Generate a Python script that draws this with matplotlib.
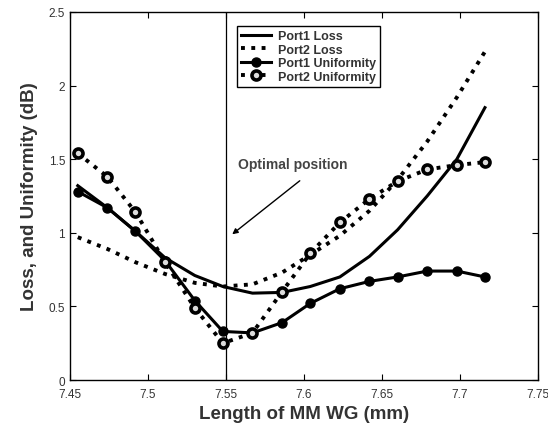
import numpy as np
import matplotlib
matplotlib.use("Agg")
import matplotlib.pyplot as plt

plt.rcParams['font.family'] = ['Liberation Sans', 'DejaVu Sans']

# length of MM WG (mm), sample positions
length = [7.455, 7.474, 7.492, 7.511, 7.530, 7.548, 7.567, 7.586,
          7.604, 7.623, 7.642, 7.660, 7.679, 7.698, 7.716]

port1_loss = [1.32, 1.17, 1.01, 0.83, 0.71, 0.635, 0.59, 0.595,
              0.635, 0.70, 0.84, 1.02, 1.25, 1.50, 1.85]
port2_loss = [0.97, 0.89, 0.80, 0.72, 0.66, 0.635, 0.65, 0.73,
              0.85, 0.98, 1.15, 1.36, 1.62, 1.92, 2.23]
port1_unif = [1.28, 1.17, 1.01, 0.81, 0.54, 0.33, 0.32, 0.39,
              0.52, 0.62, 0.67, 0.70, 0.74, 0.74, 0.70]
port2_unif = [1.54, 1.38, 1.14, 0.80, 0.49, 0.25, 0.32, 0.60,
              0.86, 1.07, 1.23, 1.35, 1.43, 1.46, 1.48]

xticks = [7.45, 7.5, 7.55, 7.6, 7.65, 7.7, 7.75]
xticklabels = ["7.45", "7.5", "7.55", "7.6", "7.65", "7.7", "7.75"]
yticks = [0, 0.5, 1, 1.5, 2, 2.5]
yticklabels = ["0", "0.5", "1", "1.5", "2", "2.5"]

optimal = 7.55

fig = plt.figure(figsize=(5.48, 4.27), dpi=100)
ax = fig.add_axes([0.1277, 0.1077, 0.854, 0.862])

ax.plot(length, port1_loss, '-', color='black', lw=2.2, label='Port1 Loss')
ax.plot(length, port2_loss, ':', color='black', lw=2.8, label='Port2 Loss')
ax.plot(length, port1_unif, '-', color='black', lw=2.2, marker='o',
        ms=6.5, label='Port1 Uniformity')
ax.plot(length, port2_unif, ':', color='black', lw=2.8, marker='o',
        ms=6.5, mfc='#dddddd', mec='black', mew=2.6, label='Port2 Uniformity')

ax.axvline(optimal, color='black', lw=0.9)

ax.annotate('', xy=(7.5526, 0.978), xytext=(7.5987, 1.365),
            arrowprops=dict(arrowstyle='-|>', color='black', lw=1.0,
                            mutation_scale=8))
ax.text(7.5577, 1.467, 'Optimal position', fontsize=10, fontweight='bold',
        color='#444444', va='center', ha='left')

ax.set_xlim(7.45, 7.75)
ax.set_ylim(0, 2.5)
ax.set_xticks(xticks)
ax.set_xticklabels(xticklabels)
ax.set_yticks(yticks)
ax.set_yticklabels(yticklabels)
ax.tick_params(direction='in', top=True, right=True, labelsize=8.5,
               length=4, colors='black', labelcolor='#333333')
ax.tick_params(axis='x', pad=6)
for s in ax.spines.values():
    s.set_linewidth(1.0)

ax.set_xlabel('Length of MM WG (mm)', fontsize=13.5, fontweight='bold',
              color='#333333', labelpad=3)
ax.set_ylabel('Loss, and Uniformity (dB)', fontsize=13.5, fontweight='bold',
              color='#333333', labelpad=8)

leg = ax.legend(loc='upper left', bbox_to_anchor=(0.357, 0.962),
                borderaxespad=0, fancybox=False, edgecolor='black',
                framealpha=1, handlelength=2.4, handletextpad=0.5,
                labelspacing=0.12, borderpad=0.35,
                prop={'size': 9, 'weight': 'bold'})
leg.get_frame().set_linewidth(1.0)
for t in leg.get_texts():
    t.set_color('#333333')

fig.savefig('out.png', dpi=100)
